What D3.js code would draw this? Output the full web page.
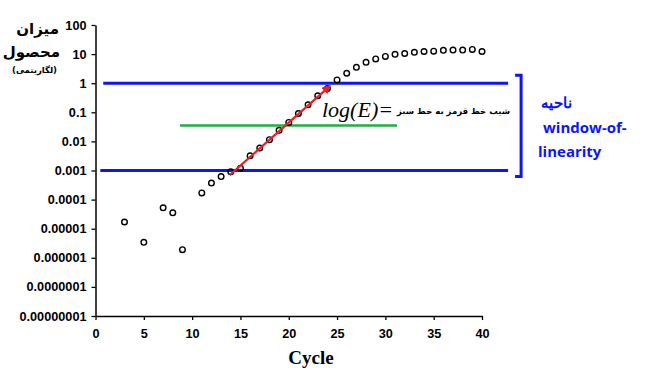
<!DOCTYPE html>
<html>
<head>
<meta charset="utf-8">
<script src="https://cdn.jsdelivr.net/npm/d3@7"></script>
<style>
  body { margin: 0; background: #fff; }
  svg { display: block; }
</style>
</head>
<body>
<svg width="669" height="374"></svg>
<script>
  // qPCR amplification data
  var cycles = [3, 5, 7, 8, 9, 11, 12, 13, 14, 15, 16, 17, 18, 19, 20, 21, 22, 23, 24, 25, 26, 27, 28, 29, 30, 31, 32, 33, 34, 35, 36, 37, 38, 39, 40];
  var amounts = [1.7e-5, 3.4e-6, 5.2e-5, 3.5e-5, 1.9e-6, 1.7e-4, 3.7e-4, 6.2e-4, 9e-4, 1.2e-3, 3.2e-3, 5.9e-3, 1.15e-2, 2.4e-2, 4.5e-2, 9.1e-2, 0.18, 0.37, 0.66, 1.3, 2.2, 3.5, 5.2, 6.8, 8.3, 9.8, 10.5, 11.5, 12.3, 12.6, 13.5, 13.8, 13.8, 14.5, 12.3];

  var xTicks = [0, 5, 10, 15, 20, 25, 30, 35, 40];
  var yTicks = [100, 10, 1, 0.1, 0.01, 0.001, 0.0001, 0.00001, 0.000001, 0.0000001, 0.00000001];
  var yTickLabels = ["100", "10", "1", "0.1", "0.01", "0.001", "0.0001", "0.00001", "0.000001", "0.0000001", "0.00000001"];

  // window of linearity bounds and helper lines (cycle, value)
  var windowBounds = [1, 0.001];
  var windowCycles = [[0.8, 42.7], [0.5, 42.7]];
  var greenLine = [[8.75, 0.035], [31.2, 0.035]];
  var redLine = [[13.9, 7e-4], [24.1, 0.72]];

  var svg = d3.select("svg");
  var x = d3.scaleLinear().domain([0, 40]).range([95.5, 482]);
  var y = d3.scaleLog().domain([1e-8, 100]).range([316, 25]);

  var blue = "#0b16f2", red = "#ee1c24", green = "#1fae3f";

  // axes
  var xAxis = svg.append("g")
    .attr("transform", "translate(0," + y(1e-8) + ")")
    .call(d3.axisBottom(x).tickValues(xTicks).tickSize(4).tickSizeOuter(0));
  var yAxis = svg.append("g")
    .attr("transform", "translate(" + x(0) + ",0)")
    .call(d3.axisLeft(y).tickValues(yTicks).tickSize(4).tickSizeOuter(0)
      .tickFormat(function (d, i) { return yTickLabels[i]; }));
  [xAxis, yAxis].forEach(function (a) {
    a.select(".domain").attr("stroke", "#000").attr("stroke-width", 1.5);
    a.selectAll(".tick line").attr("stroke", "#000").attr("stroke-width", 1.3);
    a.selectAll("text").attr("fill", "#000")
      .style("font-family", "Liberation Sans, Arial, sans-serif")
      .style("font-weight", "bold")
      .style("font-size", "12.7px");
  });
  xAxis.selectAll("text").attr("dy", "1.2em");
  yAxis.selectAll("text").attr("x", -9);

  // window lines
  svg.selectAll(".win").data(windowBounds).enter().append("line")
    .attr("x1", function (d, i) { return x(windowCycles[i][0]); })
    .attr("x2", function (d, i) { return x(windowCycles[i][1]); })
    .attr("y1", function (d) { return y(d); })
    .attr("y2", function (d) { return y(d); })
    .attr("stroke", blue).attr("stroke-width", 3);

  // bracket
  var bx = x(42.7) + 13;
  var bTop = y(windowBounds[0]) - 8, bBot = y(windowBounds[1]) + 6;
  svg.append("path")
    .attr("d", "M" + (bx - 6) + "," + bTop + "H" + bx + "V" + bBot + "H" + (bx - 6))
    .attr("fill", "none").attr("stroke", blue).attr("stroke-width", 3);

  // green line
  svg.append("line")
    .attr("x1", x(greenLine[0][0])).attr("y1", y(greenLine[0][1]))
    .attr("x2", x(greenLine[1][0])).attr("y2", y(greenLine[1][1]))
    .attr("stroke", green).attr("stroke-width", 2.5);

  // points
  svg.selectAll(".pt").data(cycles).enter().append("circle")
    .attr("cx", function (d) { return x(d); })
    .attr("cy", function (d, i) { return y(amounts[i]); })
    .attr("r", 2.8)
    .attr("fill", "none").attr("stroke", "#000").attr("stroke-width", 1.4);

  // red slope arrow
  svg.append("defs").append("marker")
    .attr("id", "ah").attr("viewBox", "0 0 10 10").attr("refX", 6).attr("refY", 5)
    .attr("markerWidth", 4).attr("markerHeight", 4).attr("orient", "auto")
    .append("path").attr("d", "M0,0L10,5L0,10z").attr("fill", red);
  svg.append("line")
    .attr("x1", x(redLine[0][0])).attr("y1", y(redLine[0][1]))
    .attr("x2", x(redLine[1][0])).attr("y2", y(redLine[1][1]))
    .attr("stroke", red).attr("stroke-width", 2.2)
    .attr("marker-end", "url(#ah)");

  // annotation texts
  svg.append("text")
    .attr("x", 322).attr("y", 117)
    .style("font-family", "Liberation Serif, Times New Roman, serif")
    .style("font-style", "italic").style("font-size", "22px")
    .text("log(E)=");
  svg.append("text")
    .attr("x", 510).attr("y", 114).attr("text-anchor", "end")
    .style("font-family", "DejaVu Sans, sans-serif").style("font-size", "8.5px")
    .style("font-weight", "bold")
    .text("شیب خط قرمز به خط سبز");

  var blueText = [["ناحیه", 572, 108], ["window-of-", 543, 133], ["linearity", 538, 157]];
  svg.selectAll(".bt").data(blueText).enter().append("text")
    .attr("x", function (d) { return d[1]; })
    .attr("y", function (d) { return d[2]; })
    .attr("text-anchor", function (d, i) { return i === 0 ? "end" : "start"; })
    .attr("fill", blue)
    .style("font-family", "Open Sans, Liberation Sans, sans-serif")
    .style("font-weight", "bold").style("font-size", "15px")
    .text(function (d) { return d[0]; });

  // y title
  var yTitle = [["میزان", 59, 34, 15], ["محصول", 60, 57, 15], ["(لگاریتمی)", 57, 73, 8.5]];
  svg.selectAll(".yt").data(yTitle).enter().append("text")
    .attr("x", function (d) { return d[1]; })
    .attr("y", function (d) { return d[2]; })
    .attr("text-anchor", "end")
    .style("font-family", "DejaVu Sans, sans-serif")
    .style("font-weight", "bold")
    .style("font-size", function (d) { return d[3] + "px"; })
    .text(function (d) { return d[0]; });

  // x title
  svg.append("text")
    .attr("x", 311).attr("y", 364).attr("text-anchor", "middle")
    .style("font-family", "Liberation Serif, Times New Roman, serif")
    .style("font-weight", "bold").style("font-size", "19px")
    .text("Cycle");
</script>
</body>
</html>
